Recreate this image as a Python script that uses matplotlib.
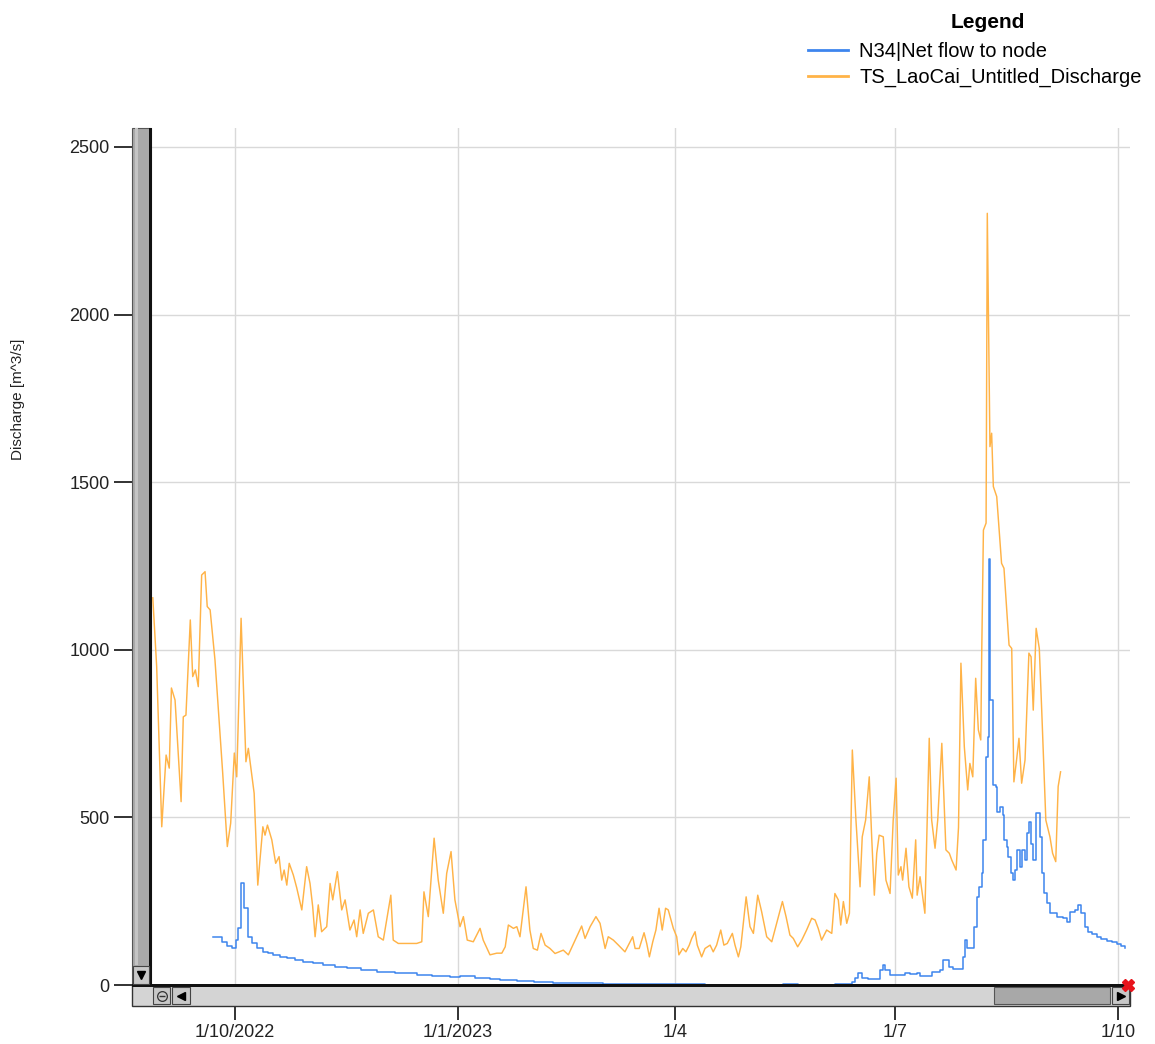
import numpy as np
import matplotlib
matplotlib.use('Agg')
from matplotlib import pyplot as plt
from matplotlib import dates as mdates
from matplotlib.patches import Rectangle
from matplotlib.lines import Line2D
from datetime import datetime

plt.rcParams['font.family'] = ['Liberation Sans', 'DejaVu Sans']

# day offsets are counted from 1/10/2022
base = datetime(2022, 10, 1)

orange_day = [-34.0, -32.4, -30.3, -28.5, -27.2, -26.3, -24.8, -22.3, -21.4, -20.3,
              -18.5, -17.5, -16.4, -15.2, -13.8, -12.4, -11.5, -10.3, -8.3, -6.5,
              -5.1, -3.2, -1.8, -0.3, 0.7, 2.5, 4.5, 5.5, 7.9, 9.4,
              11.5, 12.4, 13.4, 15.2, 16.8, 18.2, 19.3, 20.3, 21.4, 22.4,
              24.1, 25.5, 27.6, 29.6, 31.0, 32.1, 33.1, 34.4, 35.8, 37.9,
              39.3, 40.4, 42.3, 44.1, 45.5, 47.5, 49.2, 50.3, 51.7, 53.0,
              55.1, 57.2, 59.2, 61.3, 62.7, 64.4, 65.4, 67.5, 71.0, 75.1,
              77.2, 78.1, 79.9, 82.3, 84.0, 86.1, 87.5, 89.3, 90.9, 93.0,
              94.4, 96.0, 98.5, 101.3, 102.6, 105.4, 108.2, 110.3, 111.7, 113.0,
              115.1, 116.5, 117.8, 120.3, 121.9, 123.3, 125.0, 126.5, 128.2, 130.2,
              132.3, 135.7, 137.8, 140.6, 143.3, 144.7, 146.8, 149.2, 150.9, 153.0,
              154.3, 156.4, 158.5, 161.2, 164.4, 165.4, 167.1, 169.1, 170.2, 171.3,
              172.7, 174.0, 175.3, 176.6, 178.0, 179.1, 181.2, 182.6, 183.5, 185.1,
              186.4, 187.8, 188.8, 190.2, 191.1, 192.9, 194.3, 196.4, 197.7, 199.1,
              200.8, 202.1, 203.5, 205.6, 206.7, 208.1, 209.1, 211.3, 212.9, 214.3,
              216.1, 217.7, 219.8, 221.9, 223.9, 226.3, 227.8, 229.4, 230.8, 232.6,
              234.3, 236.3, 238.4, 239.8, 241.1, 242.5, 244.6, 246.7, 248.0, 249.4,
              250.4, 251.5, 252.9, 254.0, 255.2, 256.7, 258.4, 259.3, 260.7, 262.2,
              263.2, 264.3, 265.3, 266.3, 268.0, 269.1, 270.8, 272.1, 273.3, 274.2,
              275.3, 276.0, 277.4, 278.6, 280.0, 281.4, 282.0, 283.2, 285.2, 287.0,
              288.0, 289.4, 290.5, 292.2, 293.9, 295.3, 296.3, 298.1, 299.1, 300.1,
              301.5, 302.9, 303.8, 305.0, 306.2, 307.3, 308.3, 308.7, 309.4, 310.5,
              311.0, 311.7, 312.1, 312.8, 313.5, 314.9, 316.9, 317.9, 320.0, 321.1,
              322.0, 323.1, 324.1, 325.2, 326.6, 328.2, 329.1, 330.0, 331.2, 332.5,
              333.5, 335.2, 336.9, 338.0, 339.3, 340.3, 341.3]
orange_q = [1155, 950, 472, 686, 647, 886, 850, 547, 800, 805,
            1089, 920, 940, 890, 1223, 1233, 1129, 1119, 970, 781,
            632, 413, 483, 692, 621, 1094, 666, 706, 572, 298,
            472, 447, 477, 433, 363, 383, 313, 343, 298, 363,
            328, 290, 224, 353, 303, 234, 144, 239, 159, 174,
            303, 254, 338, 224, 254, 164, 194, 144, 224, 154,
            214, 224, 144, 134, 194, 268, 134, 124, 124, 124,
            129, 278, 204, 438, 313, 214, 333, 398, 254, 174,
            204, 134, 129, 169, 134, 90, 95, 95, 114, 179,
            169, 174, 144, 293, 164, 109, 104, 154, 119, 109,
            94, 104, 90, 134, 176, 139, 174, 204, 184, 109,
            144, 134, 119, 99, 144, 109, 109, 156, 124, 84,
            129, 164, 229, 164, 229, 224, 169, 144, 90, 109,
            99, 119, 139, 159, 119, 84, 109, 119, 99, 119,
            164, 119, 124, 154, 119, 84, 114, 263, 174, 154,
            268, 219, 144, 129, 184, 249, 204, 149, 139, 114,
            134, 164, 199, 194, 169, 134, 164, 154, 273, 254,
            179, 249, 184, 214, 701, 492, 293, 442, 492, 621,
            442, 268, 393, 447, 442, 313, 273, 492, 617, 328,
            353, 313, 408, 293, 259, 433, 268, 323, 214, 736,
            492, 408, 492, 721, 403, 393, 373, 343, 470, 960,
            711, 582, 661, 621, 915, 761, 731, 990, 1357, 1378,
            2302, 1874, 1606, 1646, 1487, 1457, 1258, 1243, 1014, 1004,
            606, 671, 736, 602, 671, 990, 979, 820, 1064, 1004,
            820, 492, 442, 393, 368, 592, 636]

blue_day = [-9.2, -7.3, -5.5, -3.4, -1.4, 0.4, 1.1, 2.4, 3.8, 5.5,
            6.9, 9.0, 11.7, 13.6, 15.8, 18.4, 21.4, 24.6, 28.2, 32.1,
            36.5, 41.2, 46.2, 52.0, 58.6, 66.3, 75.1, 81.5, 88.9, 93.0,
            99.2, 105.4, 109.5, 116.5, 123.8, 131.5, 141.0, 152.1, 172.0, 194.3,
            226.5, 232.7, 248.0, 255.2, 256.4, 257.7, 259.1, 261.8, 266.0, 266.7,
            267.8, 268.8, 270.8, 277.0, 279.1, 281.8, 283.2, 288.0, 291.4, 292.5,
            295.3, 296.9, 300.8, 301.7, 302.5, 305.5, 306.6, 307.7, 308.7, 309.4,
            310.3, 311.2, 311.7, 312.3, 313.5, 314.6, 315.1, 316.2, 317.4, 317.9,
            319.0, 319.7, 320.7, 321.5, 322.4, 323.4, 324.5, 325.5, 326.6, 327.3,
            328.2, 329.1, 330.0, 331.2, 332.8, 333.5, 334.4, 335.6, 336.9, 339.7,
            342.4, 343.8, 345.2, 347.3, 348.6, 349.6, 351.4, 352.7, 354.4, 356.2,
            358.2, 360.3, 362.4, 364.5, 366.2, 367.9]
blue_q = [144, 143, 129, 116, 109, 134, 169, 303, 229, 144,
          124, 109, 99, 95, 90, 85, 80, 75, 70, 65,
          60, 55, 50, 45, 40, 35, 30, 28, 25, 28,
          22, 17, 15, 12, 10, 7, 5, 3, 2, 0,
          3, 0, 3, 10, 20, 35, 22, 19, 19, 45,
          60, 45, 30, 35, 32, 35, 28, 40, 45, 75,
          55, 47, 84, 134, 109, 174, 263, 293, 333, 433,
          681, 741, 1270, 850, 597, 592, 517, 532, 507, 433,
          413, 383, 333, 313, 343, 403, 353, 403, 373, 453,
          487, 420, 373, 512, 442, 333, 273, 244, 214, 204,
          199, 189, 219, 224, 239, 214, 174, 159, 152, 144,
          138, 132, 127, 122, 116, 109]

tick_dates = [datetime(2022, 10, 1), datetime(2023, 1, 1), datetime(2023, 4, 1),
              datetime(2023, 7, 1), datetime(2023, 10, 1)]
tick_labels = ['1/10/2022', '1/1/2023', '1/4', '1/7', '1/10']
y_ticks = [0, 500, 1000, 1500, 2000, 2500]

series_names = ['N34|Net flow to node', 'TS_LaoCai_Untitled_Discharge']
c_blue = '#3D85EE'
c_orange = '#FFB347'

W, H = 1155, 1044
fig = plt.figure(figsize=(W / 100, H / 100), dpi=100)
L, R, T, B = 132, 1130, 128, 1006
ax = fig.add_axes([L / W, 1 - B / H, (R - L) / W, (B - T) / H])

x0 = mdates.date2num(base)
ax.plot(x0 + np.array(orange_day), orange_q, color=c_orange, lw=1.05, zorder=3)
ax.plot(x0 + np.array(blue_day), blue_q, color=c_blue, lw=1.1,
        drawstyle='steps-post', zorder=4)

ax.set_xlim(x0 - 42.6, x0 + 370.0)
ax.set_ylim(-62.6, 2556.5)
ax.set_xticks(mdates.date2num(tick_dates))
ax.set_xticklabels(tick_labels)
ax.set_yticks(y_ticks)
ax.set_axisbelow(True)
ax.grid(True, color='#D9D9D9', lw=1.0)
for s in ax.spines.values():
    s.set_visible(False)
ax.tick_params(axis='y', length=13, width=1.3, pad=3, labelsize=13, colors='#222222')
ax.tick_params(axis='x', length=10, width=1.3, pad=3, labelsize=13, colors='#222222')


# scrollbars (pixel coords -> axes fraction)
def fx(px):
    return (px - L) / (R - L)


def fy(py):
    return (B - py) / (B - T)


def box(x1, y1, x2, y2, fc, ec='none', lw=0, z=10):
    ax.add_patch(Rectangle((fx(x1), fy(y2)), fx(x2) - fx(x1), fy(y1) - fy(y2),
                           transform=ax.transAxes, fc=fc, ec=ec, lw=lw,
                           zorder=z, clip_on=False))


def mark(px, py, m, **kw):
    ax.plot([fx(px)], [fy(py)], marker=m, transform=ax.transAxes,
            clip_on=False, zorder=13, **kw)


# vertical bar
box(132, 128, 151, 985, '#A9A9A9', ec='#555555', lw=0.8)
box(135, 128, 138, 965, '#C4C4C4', z=11)
box(149, 128, 152, 985, '#111111', z=11)
box(133, 966, 149, 984, '#C8C8C8', ec='#444444', lw=0.8, z=12)
mark(141, 975, 'v', color='k', ms=6)

# horizontal bar
box(132, 985, 1130, 1006, '#D4D4D4', ec='#333333', lw=1.0)
box(132, 984, 1130, 986.5, '#111111', z=11)
box(153, 987, 170, 1004, '#C8C8C8', ec='#444444', lw=0.8, z=12)
mark(161.5, 995.5, 'o', ms=7, mfc='none', mec='#333333', mew=0.9)
mark(161.5, 995.5, '_', ms=4, mec='#333333', mew=1.0)
box(172, 987, 190, 1004, '#C8C8C8', ec='#444444', lw=0.8, z=12)
mark(181, 995.5, '<', color='k', ms=6)
box(994, 987, 1110, 1004, '#A8A8A8', ec='#555555', lw=0.8, z=12)
box(1112, 987, 1129, 1004, '#C8C8C8', ec='#444444', lw=0.8, z=12)
mark(1121, 995.5, '>', color='k', ms=6)
mark(1128, 985, 'X', color='#E8141C', ms=8)

fig.text(18 / W, 1 - 399 / H, 'Discharge [m^3/s]', rotation=90,
         ha='center', va='center', fontsize=11, color='#222222')

# legend: title as separate text, entries below it
fig.text(988 / W, 1 - 22 / H, 'Legend', ha='center', va='center',
         fontsize=15, fontweight='bold')
handles = [Line2D([], [], color=c_blue, lw=2.0), Line2D([], [], color=c_orange, lw=2.0)]
fig.legend(handles, series_names, loc='upper left', bbox_to_anchor=(802 / W, 1 - 36 / H),
           frameon=False, fontsize=14.5,
           handlelength=2.0, handletextpad=0.55, labelspacing=0.35,
           borderaxespad=0, borderpad=0.3)

fig.savefig('out.png', dpi=100)
